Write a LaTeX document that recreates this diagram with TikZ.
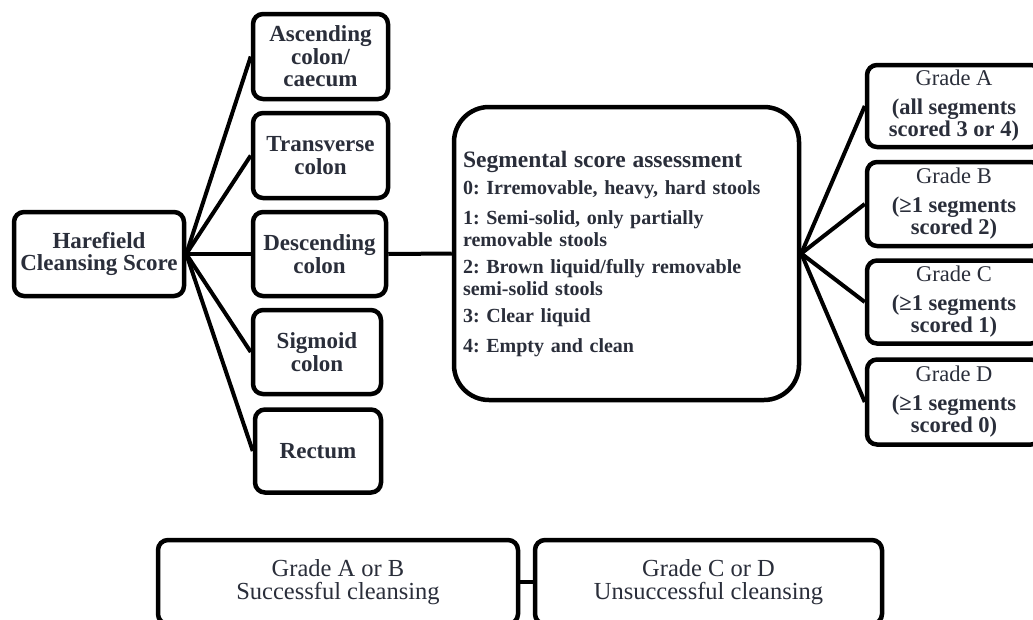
\documentclass[tikz,border=0pt]{standalone}
\usepackage{fontspec}
\setmainfont{Liberation Serif}
\frenchspacing
\definecolor{txt}{RGB}{42,46,58}
\tikzset{
  box/.style={draw=black, line width=4.5pt, rounded corners=10pt, fill=white,
    text=txt, align=center, inner sep=0pt},
  segfont/.style={font=\bfseries\fontsize{23}{22.5}\selectfont},
  gradefont/.style={font=\bfseries\fontsize{22.5}{22}\selectfont},
  botfont/.style={font=\fontsize{24.5}{23.5}\selectfont},
  conn/.style={line width=4pt},
}
\begin{document}
\begin{tikzpicture}[x=1pt,y=-1pt]
\useasboundingbox (0,0) rectangle (1033,619);
\clip (0,0) rectangle (1033,619);
% left column
\node[box, segfont, minimum width=170, minimum height=84] (hcs) at (99,254) {Harefield\\Cleansing Score};
\node[box, segfont, minimum width=135, minimum height=85] (asc) at (320.5,56.5) {Ascending\\colon/\\caecum};
\node[box, segfont, minimum width=135, minimum height=85] (trv) at (320.5,155.5) {Transverse\\colon};
\node[box, segfont, minimum width=133, minimum height=84] (dsc) at (319.5,254) {Descending\\colon};
\node[box, segfont, minimum width=128, minimum height=84] (sig) at (317,352) {Sigmoid\\colon};
\node[box, segfont, minimum width=126, minimum height=83] (rec) at (318,451) {Rectum};
% segmental box
\node[box, rounded corners=35pt, align=left, text width=327, inner xsep=9pt, inner ysep=0pt,
  minimum height=293, font=\bfseries\fontsize{20}{22}\selectfont] (seg) at (626.5,253.5)
  {{\fontsize{23.5}{22}\selectfont Segmental score assessment}\\[6pt]
   0: Irremovable, heavy, hard stools\\[7pt]
   1: Semi-solid, only partially\\
   removable stools\\[5pt]
   2: Brown liquid/fully removable\\
   semi-solid stools\\[6pt]
   3: Clear liquid\\[7pt]
   4: Empty and clean};
% grades
\node[box, gradefont, minimum width=174, minimum height=82] (ga) at (954,106) {{\mdseries Grade A}\\[7pt](all segments\\scored 3 or 4)};
\node[box, gradefont, minimum width=174, minimum height=84] (gb) at (954,204) {{\mdseries Grade B}\\[7pt](≥1 segments\\scored 2)};
\node[box, gradefont, minimum width=174, minimum height=83] (gc) at (954,302) {{\mdseries Grade C}\\[7pt](≥1 segments\\scored 1)};
\node[box, gradefont, minimum width=174, minimum height=85] (gd) at (954,402) {{\mdseries Grade D}\\[7pt](≥1 segments\\scored 0)};
% bottom
\node[box, botfont, minimum width=360, minimum height=84] (bl) at (338,582) {Grade A or B\\Successful cleansing};
\node[box, botfont, minimum width=347, minimum height=84] (br) at (708.5,582) {Grade C or D\\Unsuccessful cleansing};
% connectors
\foreach \t in {asc,trv,dsc,sig,rec} \draw[conn] (hcs.east) -- (\t.west);
\draw[conn] (dsc.east) -- (seg.west);
\foreach \t in {ga,gb,gc,gd} \draw[conn] (seg.east) -- (\t.west);
\draw[conn] (bl.east) -- (br.west);
\end{tikzpicture}
\end{document}
